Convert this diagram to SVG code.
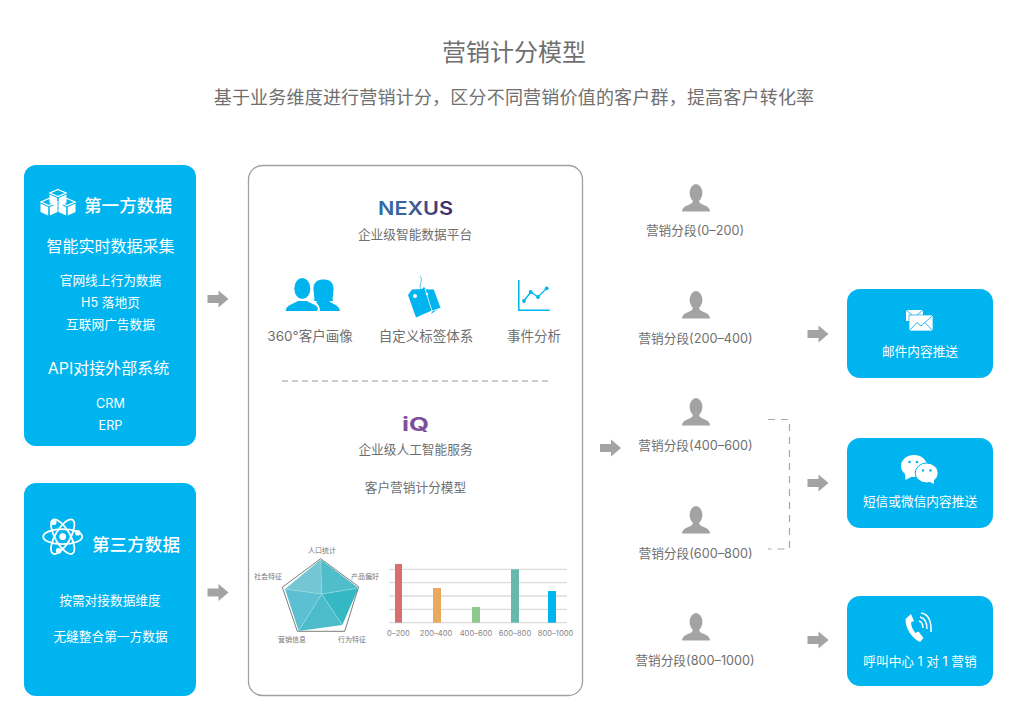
<svg xmlns="http://www.w3.org/2000/svg" width="1020" height="717" viewBox="0 0 1020 717" xmlns:xlink="http://www.w3.org/1999/xlink">
<style>
text{font-family:"Inter","Noto Sans CJK SC","Noto Sans",sans-serif;text-anchor:middle;fill:#6f6f6f}
.card{fill:#00b4ef}
.w{fill:#fff}
.ws{fill:none;stroke:#fff}
.blue{fill:#00b4ef}
.bs{fill:none;stroke:#00b4ef}
.t13{font-size:12.7px}
.t135{font-size:13.5px}
.t14{font-size:14px}
.tw{fill:#fff}
.h{font-size:17.6px;font-weight:500;fill:#fff}
.r{font-size:7px;fill:#777}
.x{font-size:7.6px;fill:#888}
.grid{stroke:#dcdcdc;stroke-width:1.3}
</style>
<defs>
<linearGradient id="nx" x1="0" x2="1" y1="0" y2="0"><stop offset="0" stop-color="#2f6ea8"/><stop offset=".5" stop-color="#3f5b96"/><stop offset="1" stop-color="#44285f"/></linearGradient>
<g id="arrow"><path d="M-10.5-4H.5V-8.5L10.5 0 .5 8.5V4H-10.5Z" fill="#a3a3a3"/></g>
<g id="person"><ellipse cx="0" cy="9" rx="6.4" ry="9" fill="#a3a3a3"/><path d="M-14 27.5C-14 22.500-8 21.500-4 19-3 17-3 16-3 14H3C3 16 3 17 4 19 8 21.500 14 22.500 14 27.500Z" fill="#a3a3a3"/></g>
<g id="cube"><path d="M0-6.500 8-3 0 .5-8-3Z" class="ws" stroke-width="1.300"/><path d="M-8.500-1.500-.8 2V10.500L-8.500 7Z" class="w"/><path d="M8.500-1.500 .8 2V10.500L8.500 7Z" class="w"/></g>
</defs>

<g id="title"><text x="514" y="61" font-size="24" fill="#666">营销计分模型</text>
<text x="514" y="104" font-size="18" letter-spacing=".2" style="fill:#6f6f6f">基于业务维度进行营销计分，区分不同营销价值的客户群，提高客户转化率</text></g>

<g id="first-party">
<rect class="card" x="24" y="165" width="172" height="281" rx="12"/>
<g transform="translate(58,196)"><use href="#cube" x="0" y="0"/><use href="#cube" x="-9" y="9"/><use href="#cube" x="9" y="9"/></g>
<text class="h" x="128" y="211.500">第一方数据</text>
<text class="tw" x="110.500" y="252" font-size="16">智能实时数据采集</text>
<text class="tw t13" x="110.500" y="285">官网线上行为数据</text>
<text class="tw t13" x="110.500" y="307">H5 落地页</text>
<text class="tw t13" x="110.500" y="329">互联网广告数据</text>
<text class="tw" x="108.500" y="374" font-size="16">API对接外部系统</text>
<text class="tw t13" x="110.500" y="408">CRM</text>
<text class="tw t13" x="110.500" y="430">ERP</text>
</g>

<g id="third-party">
<rect class="card" x="24" y="483" width="172" height="213" rx="12"/>
<g transform="translate(62.700,536.700)">
<g class="ws" stroke-width="1.800"><ellipse rx="19.500" ry="7.500"/><ellipse rx="19.500" ry="7.500" transform="rotate(60)"/><ellipse rx="19.500" ry="7.500" transform="rotate(-60)"/></g>
<circle r="3.400" class="w"/><circle cx="-9" cy="-14.500" r="2.800" class="w"/><circle cx="15" cy="-4" r="2.800" class="w"/><circle cx="-4" cy="14" r="2.800" class="w"/>
</g>
<text class="h" x="136" y="550.500">第三方数据</text>
<text class="tw t13" x="110" y="605">按需对接数据维度</text>
<text class="tw t13" x="110.500" y="641">无缝整合第一方数据</text>
</g>

<g id="platform">
<rect x="248.500" y="165.500" width="334" height="530" rx="14" fill="#fff" stroke="#a0a0a0" stroke-width="1.300"/>
<text x="415.500" y="215" font-size="18.500" font-weight="600" textLength="75" lengthAdjust="spacingAndGlyphs" style="fill:url(#nx)">NEXUS</text>
<text class="t13" x="415" y="238.500">企业级智能数据平台</text>

<g id="people-icon">
<ellipse cx="302.300" cy="288.500" rx="8" ry="10.500" class="blue"/>
<path d="M285.700 311C286 305 293 304 298 301H307C311 304 316 304 318 308L317 311Z" class="blue"/>
<path d="M313.500 288C313.500 282 318 279.500 323.500 279.500S333.500 282 333.500 288C333.500 294 332 299 333 301H314C315 299 313.500 294 313.500 288Z" class="blue"/>
<path d="M319 300H328C331 304 339 304 340 311H320C320 306 317.500 304 316 302Z" class="blue"/>
</g>
<text class="t135" x="310" y="340.500">360°客户画像</text>

<g id="tags-icon">
<path d="M408 295 412 289.500 422 289 424 287 441 307 431 314 433 310 416 317.500Z" class="blue"/>
<path d="M425 289 434 289 441 308 432 311Z" class="blue" stroke="#fff" stroke-width=".8"/>
<circle cx="415" cy="296" r="2" class="w"/><circle cx="427" cy="294" r="1.200" class="w"/>
<path d="M421 290C418 283 424 281 420 276 423 280M425 291C423 281 431 280 431 273M431 291C429 283 436 285 441 276.500M422 288C420 282 421 279 423 270" class="bs" stroke-width=".7"/>
</g>
<text class="t135" x="426" y="340.500">自定义标签体系</text>

<g id="chart-icon">
<path d="M518.800 280V310.300H549.700" class="bs" stroke-width="1.500"/>
<path d="M524 301 530.700 292 538 297 546.700 288.300" class="bs" stroke-width="1.300"/>
<circle cx="524" cy="301" r="1.900" class="blue"/><circle cx="530.700" cy="292" r="1.900" class="blue"/><circle cx="538" cy="297" r="1.900" class="blue"/><circle cx="546.700" cy="288.300" r="1.900" class="blue"/>
</g>
<text class="t135" x="534" y="340.500">事件分析</text>

<line x1="282" y1="381" x2="550" y2="381" stroke="#999" stroke-width="1.200" stroke-dasharray="6 4"/>

<text x="415.500" y="431" font-size="19" font-weight="700" textLength="27" lengthAdjust="spacingAndGlyphs" style="fill:#7f4f9a">iQ</text>
<text class="t13" x="415.500" y="454">企业级人工智能服务</text>
<text class="t13" x="415.500" y="492">客户营销计分模型</text>

<g id="radar">
<path d="M320.700 558.700 358.700 586.700 344.700 631.300H297.300L282.300 587.300Z" fill="#fff" stroke="#7d7d7d" stroke-width="1"/>
<path d="M320.700 559.500 321.700 594 285 589Z" fill="#74c6d5"/>
<path d="M320.700 559.500 358.500 588 321.700 594Z" fill="#4fbdca"/>
<path d="M358.500 588 342.300 625 321.700 594Z" fill="#35b8c3"/>
<path d="M342.300 625 298.700 631 321.700 594Z" fill="#4dbcca"/>
<path d="M298.700 631 285 589 321.700 594Z" fill="#5cbfd2"/>
<path d="M320.700 559.500 321.700 594M358.500 588 321.700 594M342.300 625 321.700 594M298.700 631 321.700 594M285 589 321.700 594" stroke="#a8dfe6" stroke-width=".5" fill="none"/>
<text class="r" x="322" y="553">人口统计</text>
<text class="r" x="365" y="579">产品偏好</text>
<text class="r" x="352" y="642">行为特征</text>
<text class="r" x="292" y="642">营销信息</text>
<text class="r" x="268" y="578.500">社会特征</text>
</g>

<g id="bars">
<path class="grid" d="M389 569.300H567M389 582.700H567M389 596H567M389 609.300H567M389 622.700H567"/>
<rect x="395" y="564" width="7" height="58.700" fill="#d86f6f"/>
<rect x="433" y="588" width="8" height="34.700" fill="#e9a95f"/>
<rect x="472" y="607" width="8" height="15.700" fill="#8dc890"/>
<rect x="511" y="569.300" width="8" height="53.400" fill="#68b9ad"/>
<rect x="548" y="591" width="8" height="31.700" fill="#00b4ef"/>
<text class="x" x="398.500" y="636">0–200</text>
<text class="x" x="436" y="636">200–400</text>
<text class="x" x="476" y="636">400–600</text>
<text class="x" x="515" y="636">600–800</text>
<text class="x" x="555.500" y="636">800–1000</text>
</g>
</g>

<g id="segment-1"><use href="#person" x="696" y="184"/><text class="t13" x="695" y="235">营销分段(0–200)</text></g>
<g id="segment-2"><use href="#person" x="696" y="291"/><text class="t13" x="695.500" y="342.500">营销分段(200–400)</text></g>
<g id="segment-3"><use href="#person" x="696" y="398"/><text class="t13" x="695.500" y="450">营销分段(400–600)</text></g>
<g id="segment-4"><use href="#person" x="696" y="506"/><text class="t13" x="695.500" y="558">营销分段(600–800)</text></g>
<g id="segment-5"><use href="#person" x="696" y="613"/><text class="t13" x="695" y="665">营销分段(800–1000)</text></g>

<g id="email-card">
<rect class="card" x="847" y="289" width="146" height="89" rx="13"/>
<g>
<rect x="906" y="310" width="17" height="11" class="w"/><path d="M906 310 914.500 317 923 310" fill="none" stroke="#00b4ef" stroke-width=".9"/>
<rect x="909" y="315" width="24" height="16" class="w" stroke="#00b4ef" stroke-width=".7"/><path d="M909 331 917 322.500 921 326 925 322.500 933 331M925 322.500 933 315" fill="none" stroke="#00b4ef" stroke-width=".9"/>
</g>
<text class="tw t13" x="920" y="355.500">邮件内容推送</text>
</g>

<g id="wechat-card">
<rect class="card" x="847" y="438" width="146" height="90" rx="13"/>
<ellipse cx="914" cy="466" rx="13" ry="11" class="w"/><path d="M905 473 905.500 480 913 476Z" class="w"/>
<circle cx="909.500" cy="462" r="1.300" class="blue"/><circle cx="917" cy="462" r="1.300" class="blue"/>
<ellipse cx="926.700" cy="473" rx="11.500" ry="10" class="w" stroke="#00b4ef" stroke-width="1"/><path d="M930 482 934 484 934 479Z" class="w"/>
<circle cx="923" cy="470.500" r="1.200" class="blue"/><circle cx="930.500" cy="470.500" r="1.200" class="blue"/>
<text class="tw t13" x="920" y="506">短信或微信内容推送</text>
</g>

<g id="call-card">
<rect class="card" x="847" y="596" width="146" height="90" rx="13"/>
<path d="M911 614 905.500 619C905 627 911 638 920 642L923.500 638 918.500 631.500 915.500 633C913 630 911 626 911 622.500L914 621Z" class="w"/>
<path d="M919 621C922 622 923 625 923 628M920 617C924.500 618 927 622 927 629M921 613C928 614 931.500 620 931 632" class="ws" stroke-width="1.500"/>
<text class="tw t13" x="920" y="665.500">呼叫中心 1 对 1 营销</text>
</g>

<g id="connectors">
<use href="#arrow" x="218" y="299"/>
<use href="#arrow" x="218" y="592.500"/>
<use href="#arrow" x="610.500" y="448"/>
<use href="#arrow" x="818" y="334"/>
<use href="#arrow" x="818" y="483"/>
<use href="#arrow" x="818" y="640"/>
<path d="M768 419.500H789.500V549H768" fill="none" stroke="#a8a8a8" stroke-width="1.200" stroke-dasharray="7 6"/>
</g>
</svg>
